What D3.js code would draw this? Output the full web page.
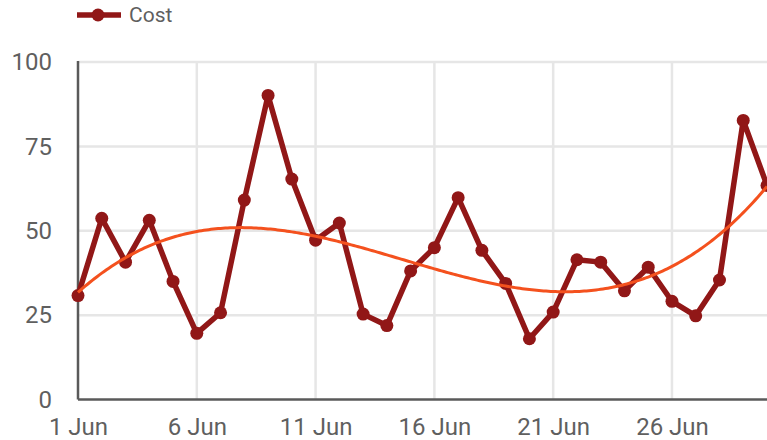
<!DOCTYPE html>
<html>
<head>
<meta charset="utf-8">
<style>
  body { margin: 0; background: #fff; }
  text { font-family: Roboto, sans-serif; }
</style>
</head>
<body>
<div id="chart"></div>
<script src="https://d3js.org/d3.v7.min.js"></script>
<script>
  // data
  var days = d3.range(1, 31);
  var cost = [30.8, 53.7, 40.7, 53.1, 35.0, 19.6, 25.7, 59.1, 90.1, 65.3,
              47.2, 52.3, 25.3, 21.9, 38.1, 45.0, 59.8, 44.2, 34.4, 18.0,
              25.9, 41.4, 40.7, 32.2, 39.2, 29.1, 24.8, 35.4, 82.7, 63.4];
  var yTicks = [0, 25, 50, 75, 100];
  var xTickDays = [1, 6, 11, 16, 21, 26];
  var seriesName = "Cost";

  var width = 767, height = 440;
  var plotLeft = 78, plotRight = 767, plotTop = 62, plotBottom = 399.5;
  var lineColor = "#911717", trendColor = "#f4511e", textColor = "#5f5f5f";

  var dates = days.map(function(d) { return new Date(2021, 5, d); });

  var svg = d3.select("#chart").append("svg")
    .attr("width", width)
    .attr("height", height);

  var x = d3.scaleTime()
    .domain([dates[0], dates[dates.length - 1]])
    .range([plotLeft, plotRight]);
  var y = d3.scaleLinear()
    .domain([0, 100])
    .range([plotBottom, plotTop]);

  // gridlines
  svg.append("g").selectAll("line")
    .data(yTicks.slice(1))
    .enter().append("line")
    .attr("x1", plotLeft).attr("x2", plotRight)
    .attr("y1", function(d) { return y(d); })
    .attr("y2", function(d) { return y(d); })
    .attr("stroke", "#e6e6e6").attr("stroke-width", 2.5);
  svg.append("g").selectAll("line")
    .data(xTickDays.slice(1))
    .enter().append("line")
    .attr("x1", function(d) { return x(new Date(2021, 5, d)); })
    .attr("x2", function(d) { return x(new Date(2021, 5, d)); })
    .attr("y1", plotTop).attr("y2", plotBottom)
    .attr("stroke", "#e6e6e6").attr("stroke-width", 2.5);

  // axes
  var yAxis = svg.append("g")
    .attr("transform", "translate(" + plotLeft + ",0)")
    .call(d3.axisLeft(y).tickValues(yTicks).tickSize(0).tickPadding(26));
  var xAxis = svg.append("g")
    .attr("transform", "translate(0," + plotBottom + ")")
    .call(d3.axisBottom(x)
      .tickValues(xTickDays.map(function(d) { return new Date(2021, 5, d); }))
      .tickFormat(d3.timeFormat("%-d %b"))
      .tickSize(0).tickPadding(18));
  [xAxis, yAxis].forEach(function(a) {
    a.select(".domain").remove();
    a.selectAll("text")
      .attr("fill", textColor)
      .style("font-size", "24px")
      .style("font-family", "Roboto, sans-serif");
  });
  svg.append("line")
    .attr("x1", plotLeft).attr("x2", plotLeft).attr("y1", plotTop - 1).attr("y2", plotBottom)
    .attr("stroke", "#5a5a5a").attr("stroke-width", 2.5);
  svg.append("line")
    .attr("x1", plotLeft).attr("x2", plotRight).attr("y1", plotBottom).attr("y2", plotBottom)
    .attr("stroke", "#5a5a5a").attr("stroke-width", 2.5);

  // cubic polynomial trendline (least squares on the data)
  function polyFit(xs, ys, deg) {
    var n = deg + 1, A = [], i, j, k;
    for (i = 0; i < n; i++) {
      A.push([]);
      for (j = 0; j <= n; j++) A[i].push(0);
    }
    xs.forEach(function(xv, p) {
      for (i = 0; i < n; i++) {
        for (j = 0; j < n; j++) A[i][j] += Math.pow(xv, i + j);
        A[i][n] += ys[p] * Math.pow(xv, i);
      }
    });
    for (i = 0; i < n; i++) {
      var piv = i;
      for (k = i + 1; k < n; k++) if (Math.abs(A[k][i]) > Math.abs(A[piv][i])) piv = k;
      var tmp = A[i]; A[i] = A[piv]; A[piv] = tmp;
      for (k = i + 1; k < n; k++) {
        var f = A[k][i] / A[i][i];
        for (j = i; j <= n; j++) A[k][j] -= f * A[i][j];
      }
    }
    var c = new Array(n).fill(0);
    for (i = n - 1; i >= 0; i--) {
      var s = A[i][n];
      for (j = i + 1; j < n; j++) s -= A[i][j] * c[j];
      c[i] = s / A[i][i];
    }
    return function(v) {
      var r = 0;
      for (var q = 0; q < n; q++) r += c[q] * Math.pow(v, q);
      return r;
    };
  }
  var fit = polyFit(days.map(function(d) { return (d - 15.5) / 14.5; }), cost, 3);
  var trendDays = d3.range(1, 30.01, 0.1);

  var plot = svg.append("g");

  plot.append("path")
    .datum(cost)
    .attr("fill", "none")
    .attr("stroke", lineColor)
    .attr("stroke-width", 5.5)
    .attr("stroke-linejoin", "round")
    .attr("d", d3.line()
      .x(function(d, i) { return x(dates[i]); })
      .y(function(d) { return y(d); }));

  plot.selectAll("circle")
    .data(cost)
    .enter().append("circle")
    .attr("cx", function(d, i) { return x(dates[i]); })
    .attr("cy", function(d) { return y(d); })
    .attr("r", 6.5)
    .attr("fill", lineColor);

  plot.append("path")
    .datum(trendDays)
    .attr("fill", "none")
    .attr("stroke", trendColor)
    .attr("stroke-width", 3)
    .attr("d", d3.line()
      .x(function(d) { return x(new Date(2021, 5, 1).getTime() + (d - 1) * 864e5); })
      .y(function(d) { return y(fit((d - 15.5) / 14.5)); }));

  // legend
  var lg = svg.append("g");
  lg.append("line")
    .attr("x1", 77).attr("x2", 121).attr("y1", 15).attr("y2", 15)
    .attr("stroke", lineColor).attr("stroke-width", 5.5);
  lg.append("circle")
    .attr("cx", 98).attr("cy", 15).attr("r", 6.5).attr("fill", lineColor);
  lg.append("text")
    .attr("x", 129).attr("y", 22)
    .attr("fill", textColor)
    .style("font-size", "21px")
    .text(seriesName);
</script>
</body>
</html>
